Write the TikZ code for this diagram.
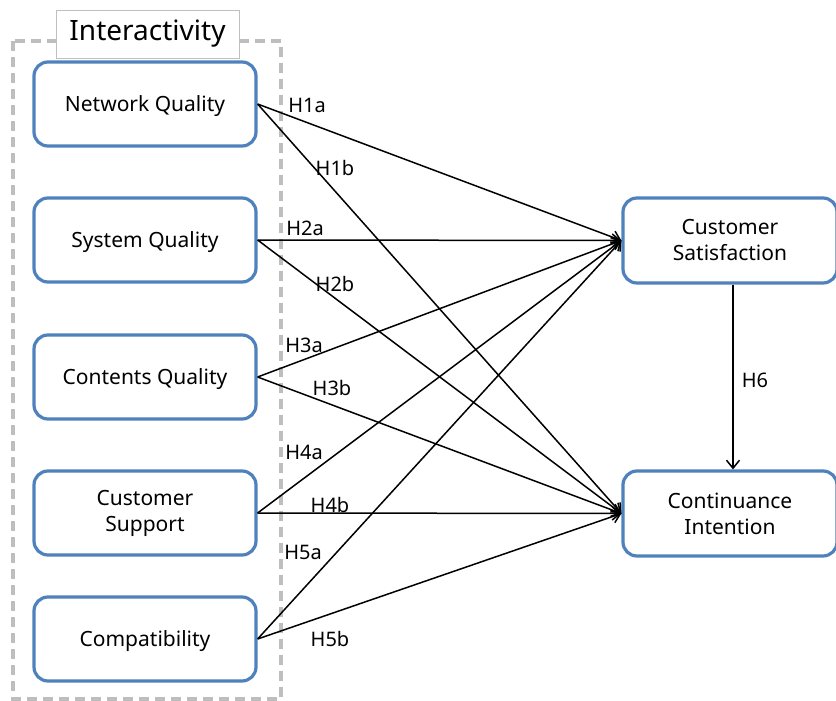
\documentclass[tikz,border=0pt]{standalone}
\usepackage{fontspec}
\setmainfont{Noto Sans}
\usetikzlibrary{arrows.meta}
\definecolor{boxblue}{HTML}{4F81BD}
\definecolor{dashgray}{HTML}{BEBEBE}
\newcommand{\oneline}[1]{\raisebox{-7pt}[0pt][0pt]{#1}}
\tikzset{
  varbox/.style={draw=boxblue, line width=3.2pt, rounded corners=14pt, fill=white,
    minimum width=222pt, minimum height=84pt, inner sep=0pt, align=center,
    font=\fontsize{21}{26}\selectfont},
  rbox/.style={varbox, minimum width=214pt, minimum height=85pt},
  hyp/.style={font=\fontsize{20}{24}\selectfont, inner sep=0pt},
  conn/.style={line width=1.5pt, -{Straight Barb[length=8pt,width=13pt,line width=1.5pt]}},
}
\begin{document}
\begin{tikzpicture}[x=1pt,y=-1pt]
\useasboundingbox (0,0) rectangle (836,701);
% dashed group
\draw[dashgray, line width=3.4pt, dash pattern=on 10pt off 6pt] (13,41) rectangle (281,699);
\node[draw=gray!50, line width=0.9pt, fill=white, minimum width=183pt, minimum height=48pt, inner sep=0pt,
  font=\fontsize{28}{32}\selectfont] (grp) at (147.5,34) {Interactivity};
% left boxes
\node[varbox] (nq) at (145,104) {\oneline{Network Quality}};
\node[varbox] (sq) at (145,240) {\oneline{System Quality}};
\node[varbox] (cq) at (145,377) {\oneline{Contents Quality}};
\node[varbox] (cs) at (145,513) {Customer\\Support};
\node[varbox] (cp) at (145,639) {\oneline{Compatibility}};
% right boxes
\node[rbox] (sat) at (730,240.5) {Customer\\Satisfaction};
\node[rbox] (ci) at (730,513.5) {Continuance\\Intention};
% connectors
\foreach \s in {nq,sq,cq,cs,cp}{
  \draw[conn] (\s.east) -- (sat.west);
  \draw[conn] (\s.east) -- (ci.west);
}
\draw[conn] (sat.south -| 733,0) -- (ci.north -| 733,0);
% labels
\node[hyp] (h1a) at (307,105) {H1a};
\node[hyp] (h1b) at (335,168) {H1b};
\node[hyp] (h2a) at (305,228) {H2a};
\node[hyp] (h2b) at (335,284) {H2b};
\node[hyp] (h3a) at (304,345) {H3a};
\node[hyp] (h3b) at (332,388) {H3b};
\node[hyp] (h4a) at (304,452) {H4a};
\node[hyp] (h4b) at (330,505) {H4b};
\node[hyp] (h5a) at (303,552) {H5a};
\node[hyp] (h5b) at (330,639) {H5b};
\node[hyp] (h6) at (755,380) {H6};
\end{tikzpicture}
\end{document}
